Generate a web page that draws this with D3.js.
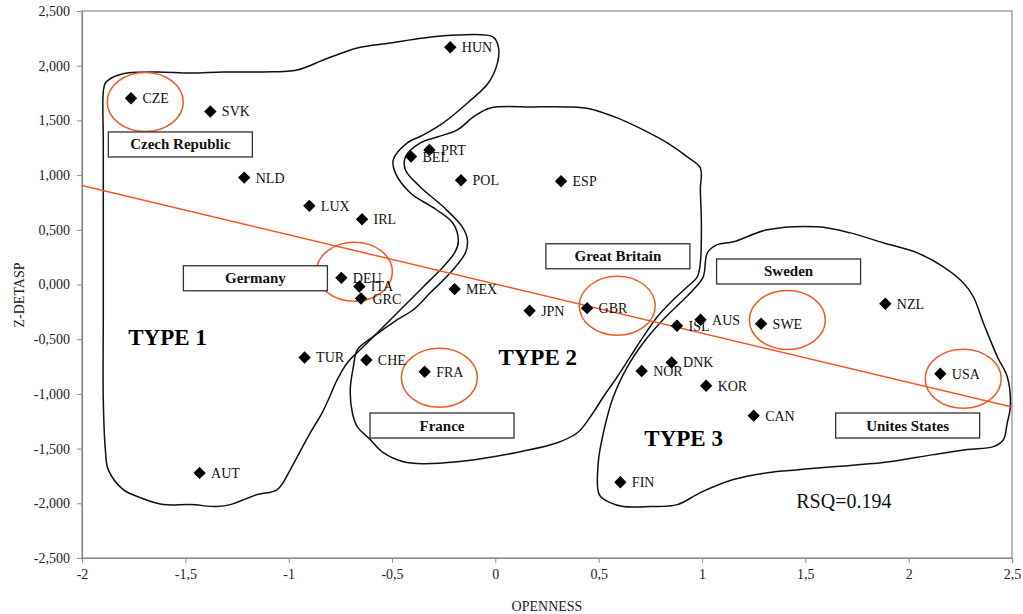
<!DOCTYPE html>
<html>
<head>
<meta charset="utf-8">
<script src="https://d3js.org/d3.v7.min.js"></script>
<style>
  html, body { margin: 0; padding: 0; background: #fff; }
  svg { display: block; }
</style>
</head>
<body>
<svg id="chart" width="1023" height="614"></svg>
<script>
// ---------- DATA ----------
const countries = ["CZE","SVK","NLD","LUX","IRL","HUN","BEL","PRT","POL","ESP",
  "DEU","ITA","GRC","MEX","TUR","CHE","FRA","AUT","JPN","GBR",
  "ISL","AUS","SWE","NZL","USA","DNK","NOR","KOR","CAN","FIN"];
const openness = [-1.763,-1.379,-1.215,-0.900,-0.645,-0.218,-0.408,-0.319,-0.166,0.318,
  -0.745,-0.658,-0.650,-0.197,-0.923,-0.624,-0.342,-1.431,0.166,0.444,
  0.879,0.993,1.286,1.887,2.153,0.853,0.708,1.020,1.250,0.605];
const zDetasp = [1.702,1.582,0.977,0.719,0.597,2.168,1.169,1.230,0.953,0.944,
  0.061,-0.018,-0.128,-0.042,-0.667,-0.690,-0.797,-1.722,-0.240,-0.216,
  -0.377,-0.322,-0.359,-0.176,-0.816,-0.712,-0.791,-0.925,-1.199,-1.808];

const xTicks = [-2,-1.5,-1,-0.5,0,0.5,1,1.5,2,2.5];
const yTicks = [-2.5,-2,-1.5,-1,-0.5,0,0.5,1,1.5,2,2.5];
const xTitle = "OPENNESS";
const yTitle = "Z-DETASP";

// fitted trend line end points
const trendLine = [[-2, 0.904],[2.5, -1.120]];

// highlighted countries (orange circles) and their caption boxes
const highlightCenters = [[-1.694,1.668],[-0.682,0.116],[-0.271,-0.852],[0.590,-0.195],[1.413,-0.324],[2.264,-0.861]];
const captionTexts = ["Czech Republic","Germany","France","Great Britain","Sweden","Unites States"];
const captionCenters = [[-1.524,1.280],[-1.161,0.057],[-0.258,-1.289],[0.593,0.258],[1.419,0.119],[1.995,-1.289]];

// cluster labels
const typeTexts = ["TYPE 1","TYPE 2","TYPE 3"];
const typePos = [[-1.776,-0.557],[0.015,-0.733],[0.721,-1.479]];
const rsqText = "RSQ=0.194";
const rsqPos = [1.456,-2.042];

// hand-drawn cluster outlines (data units)
const type1Outline = [[-1.897,1.760],[-1.887,1.842],[-1.848,1.897],[-1.781,1.933],[-1.635,1.943],[-1.476,1.933],[-1.316,1.943],[-1.123,1.943],[-0.958,1.961],[-0.832,2.052],[-0.668,2.162],[-0.508,2.207],[-0.348,2.253],[-0.184,2.280],[-0.010,2.262],[0.015,2.171],[0.010,2.024],[-0.034,1.842],[-0.135,1.659],[-0.252,1.477],[-0.348,1.367],[-0.426,1.294],[-0.494,1.139],[-0.484,1.020],[-0.411,0.837],[-0.290,0.690],[-0.205,0.560],[-0.179,0.400],[-0.194,0.300],[-0.252,0.162],[-0.348,-0.020],[-0.445,-0.203],[-0.542,-0.386],[-0.639,-0.569],[-0.716,-0.715],[-0.765,-0.870],[-0.808,-1.053],[-0.840,-1.180],[-0.895,-1.354],[-0.958,-1.573],[-0.992,-1.692],[-1.055,-1.875],[-1.152,-1.920],[-1.282,-2.012],[-1.345,-2.030],[-1.476,-2.012],[-1.606,-2.012],[-1.718,-1.948],[-1.800,-1.875],[-1.873,-1.692],[-1.887,-1.509],[-1.897,-1.053],[-1.897,-0.3],[-1.897,0.5],[-1.897,1.3]];
const type2Outline = [[-0.435,1.166],[-0.363,1.294],[-0.281,1.349],[-0.184,1.413],[-0.106,1.532],[-0.024,1.614],[0.184,1.623],[0.348,1.623],[0.460,1.605],[0.590,1.523],[0.716,1.413],[0.832,1.294],[0.929,1.166],[0.992,1.066],[0.992,0.865],[0.997,0.564],[0.992,0.198],[0.977,0.070],[0.929,-0.021],[0.861,-0.139],[0.784,-0.295],[0.716,-0.477],[0.653,-0.660],[0.590,-0.843],[0.523,-1.026],[0.460,-1.209],[0.397,-1.355],[0.300,-1.446],[0.121,-1.528],[-0.010,-1.574],[-0.184,-1.620],[-0.348,-1.638],[-0.445,-1.620],[-0.542,-1.537],[-0.605,-1.418],[-0.668,-1.300],[-0.692,-1.172],[-0.702,-0.962],[-0.687,-0.752],[-0.668,-0.597],[-0.590,-0.477],[-0.474,-0.322],[-0.397,-0.231],[-0.315,-0.076],[-0.218,0.107],[-0.145,0.289],[-0.135,0.408],[-0.160,0.527],[-0.252,0.710],[-0.363,0.892],[-0.435,1.047]];
const type3Outline = [[1.026,0.289],[1.074,0.364],[1.152,0.390],[1.316,0.500],[1.558,0.527],[1.718,0.472],[1.877,0.381],[2.042,0.289],[2.168,0.162],[2.264,0.016],[2.313,-0.112],[2.361,-0.349],[2.429,-0.660],[2.477,-0.843],[2.492,-1.117],[2.477,-1.264],[2.458,-1.419],[2.410,-1.482],[2.284,-1.509],[2.119,-1.555],[1.877,-1.628],[1.635,-1.665],[1.476,-1.692],[1.316,-1.720],[1.152,-1.783],[0.992,-1.902],[0.881,-2.012],[0.750,-2.030],[0.619,-2.030],[0.556,-1.994],[0.503,-1.920],[0.498,-1.628],[0.523,-1.354],[0.571,-1.026],[0.639,-0.752],[0.716,-0.532],[0.798,-0.349],[0.895,-0.167],[0.958,-0.048],[1.006,0.070]];

// ---------- LAYOUT ----------
const W = 1023, H = 614;
const margin = {left: 82, top: 11, right: 11, bottom: 56};
const iw = W - margin.left - margin.right;
const ih = H - margin.top - margin.bottom;
const serif = "'Liberation Serif', 'Times New Roman', serif";
const orange = "#ef5a24";

const svg = d3.select("#chart");
const g = svg.append("g").attr("transform", `translate(${margin.left},${margin.top})`);

const x = d3.scaleLinear().domain([-2, 2.5]).range([0, iw]);
const y = d3.scaleLinear().domain([-2.5, 2.5]).range([ih, 0]);

// frame
g.append("rect").attr("x", 0).attr("y", 0).attr("width", iw).attr("height", ih)
  .attr("fill", "none").attr("stroke", "#8a8a8a").attr("stroke-width", 1.2);

const fmtNum = (d, dec) => d3.format(dec)(d).replace(".", ",").replace("−", "-");

// axes
const xAxis = g.append("g").attr("transform", `translate(0,${ih})`)
  .call(d3.axisBottom(x).tickValues(xTicks).tickSize(5).tickPadding(6)
    .tickFormat(d => String(d).replace(".", ",")));
const yAxis = g.append("g")
  .call(d3.axisLeft(y).tickValues(yTicks).tickSize(5).tickPadding(7)
    .tickFormat(d => fmtNum(d, ".3f")));
[xAxis, yAxis].forEach(a => {
  a.select(".domain").attr("stroke", "#8a8a8a").attr("stroke-width", 1.2);
  a.selectAll(".tick line").attr("stroke", "#8a8a8a");
  a.selectAll(".tick text").attr("font-family", serif).attr("font-size", 14).attr("fill", "#222");
});

svg.append("text").attr("x", 547).attr("y", 611).attr("text-anchor", "middle")
  .attr("font-family", serif).attr("font-size", 14).attr("fill", "#222").text(xTitle);
svg.append("text").attr("transform", "translate(24,295) rotate(-90)").attr("text-anchor", "middle")
  .attr("font-family", serif).attr("font-size", 14).attr("fill", "#222").text(yTitle);

// cluster outlines
const outline = d3.line().x(d => x(d[0])).y(d => y(d[1])).curve(d3.curveCatmullRomClosed.alpha(0.5));
[type1Outline, type2Outline, type3Outline].forEach(o => {
  g.append("path").attr("d", outline(o)).attr("fill", "none")
    .attr("stroke", "#111").attr("stroke-width", 1.5);
});

// trend line
g.append("path").attr("d", d3.line().x(d => x(d[0])).y(d => y(d[1]))(trendLine))
  .attr("stroke", orange).attr("stroke-width", 1.5).attr("fill", "none");

// highlight ellipses
g.selectAll("ellipse.hl").data(highlightCenters).join("ellipse")
  .attr("class", "hl")
  .attr("cx", d => x(d[0])).attr("cy", d => y(d[1]))
  .attr("rx", 38).attr("ry", 29.5)
  .attr("fill", "none").attr("stroke", orange).attr("stroke-width", 1.5);

// caption boxes
const cap = g.selectAll("g.cap").data(captionTexts).join("g").attr("class", "cap")
  .attr("transform", (d, i) => `translate(${x(captionCenters[i][0])},${y(captionCenters[i][1])})`);
cap.append("rect").attr("x", -72).attr("y", -12.5).attr("width", 144).attr("height", 25)
  .attr("fill", "#fff").attr("stroke", "#333").attr("stroke-width", 1.3);
cap.append("text").attr("text-anchor", "middle").attr("y", 5)
  .attr("font-family", serif).attr("font-weight", "bold").attr("font-size", 15).attr("fill", "#111")
  .text(d => d);

// points
const pts = countries.map((c, i) => ({c, x: openness[i], y: zDetasp[i]}));
const diamond = "M0,-6.2L6.2,0L0,6.2L-6.2,0Z";
const pg = g.selectAll("g.pt").data(pts).join("g").attr("class", "pt")
  .attr("transform", d => `translate(${x(d.x)},${y(d.y)})`);
pg.append("path").attr("d", diamond).attr("fill", "#000");
pg.append("text").attr("x", 11.5).attr("y", 5)
  .attr("font-family", serif).attr("font-size", 14).attr("fill", "#111")
  .text(d => d.c);

// type labels
g.selectAll("text.type").data(typeTexts).join("text").attr("class", "type")
  .attr("x", (d, i) => x(typePos[i][0])).attr("y", (d, i) => y(typePos[i][1]))
  .attr("font-family", serif).attr("font-weight", "bold").attr("font-size", 23).attr("fill", "#000")
  .text(d => d);

g.append("text").attr("x", x(rsqPos[0])).attr("y", y(rsqPos[1]))
  .attr("font-family", serif).attr("font-size", 20).attr("fill", "#111").text(rsqText);
</script>
</body>
</html>
